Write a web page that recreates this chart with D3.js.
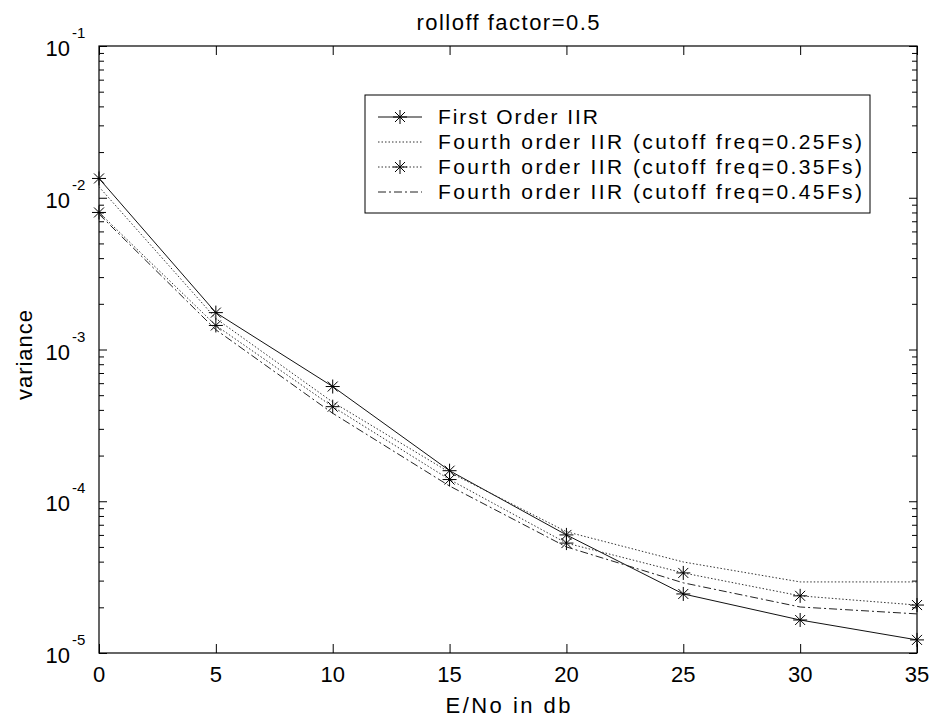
<!DOCTYPE html>
<html>
<head>
<meta charset="utf-8">
<script src="https://cdn.jsdelivr.net/npm/d3@7"></script>
<style>
  html, body { margin: 0; padding: 0; background: #fff; }
  svg { display: block; }
  text { font-family: "Liberation Sans", Arial, Helvetica, sans-serif; fill: #000; }
</style>
</head>
<body>
<script>
// ---- Data ----
const ebno = [0, 5, 10, 15, 20, 25, 30, 35];
const firstOrderIIR = [0.0134, 0.00175, 0.00057, 0.000159, 0.000060, 0.0000245, 0.0000165, 0.0000122];
const fourth025 = [0.0118, 0.00160, 0.00045, 0.000155, 0.000063, 0.0000398, 0.0000294, 0.0000294];
const fourth035 = [0.0080, 0.00144, 0.00042, 0.000139, 0.000053, 0.0000337, 0.0000238, 0.0000207];
const fourth045 = [0.0078, 0.00135, 0.00038, 0.000126, 0.000050, 0.0000290, 0.0000201, 0.0000181];
const seriesNames = [
  "First Order IIR",
  "Fourth order IIR (cutoff freq=0.25Fs)",
  "Fourth order IIR (cutoff freq=0.35Fs)",
  "Fourth order IIR (cutoff freq=0.45Fs)"
];
const xTickValues = [0, 5, 10, 15, 20, 25, 30, 35];
const yMajorExponents = [-1, -2, -3, -4, -5];
const titleText = "rolloff factor=0.5";
const xLabelText = "E/No in db";
const yLabelText = "variance";

// ---- Styles ----
const seriesData = [firstOrderIIR, fourth025, fourth035, fourth045];
const styles = [
  { dash: null, marker: true, color: "#111" },
  { dash: "1.5,2", marker: false, color: "#333" },
  { dash: "1.5,2", marker: true, color: "#333" },
  { dash: "8,3,2,3", marker: false, color: "#222" }
];

const W = 936, H = 722;
const plot = { left: 99, right: 917, top: 46, bottom: 653 };

const svg = d3.select("body").append("svg").attr("width", W).attr("height", H);
svg.append("rect").attr("width", W).attr("height", H).attr("fill", "#fff");

const x = d3.scaleLinear().domain([0, 35]).range([plot.left, plot.right]);
const y = d3.scaleLog().domain([1e-5, 1e-1]).range([plot.bottom, plot.top]);

// minor tick values
const yMinor = [];
for (let e = -5; e < -1; e++) {
  for (let m = 2; m <= 9; m++) yMinor.push(m * Math.pow(10, e));
}
const yMajor = yMajorExponents.map(e => Math.pow(10, e));

// Axes (ticks inward)
const axStyle = g => {
  g.select(".domain").remove();
  g.selectAll("line").attr("stroke", "#000").attr("stroke-width", 1);
};
svg.append("g").attr("transform", `translate(0,${plot.bottom})`)
  .call(d3.axisBottom(x).tickValues(xTickValues).tickSize(-9).tickSizeOuter(0).tickFormat(""))
  .call(axStyle);
svg.append("g").attr("transform", `translate(0,${plot.top})`)
  .call(d3.axisTop(x).tickValues(xTickValues).tickSize(-9).tickSizeOuter(0).tickFormat(""))
  .call(axStyle);
svg.append("g").attr("transform", `translate(${plot.left},0)`)
  .call(d3.axisLeft(y).tickValues(yMajor).tickSize(-8).tickSizeOuter(0).tickFormat(""))
  .call(axStyle);
svg.append("g").attr("transform", `translate(${plot.left},0)`)
  .call(d3.axisLeft(y).tickValues(yMinor).tickSize(-5).tickSizeOuter(0).tickFormat(""))
  .call(axStyle);
svg.append("g").attr("transform", `translate(${plot.right},0)`)
  .call(d3.axisRight(y).tickValues(yMajor).tickSize(-8).tickSizeOuter(0).tickFormat(""))
  .call(axStyle);
svg.append("g").attr("transform", `translate(${plot.right},0)`)
  .call(d3.axisRight(y).tickValues(yMinor).tickSize(-5).tickSizeOuter(0).tickFormat(""))
  .call(axStyle);

// Box
svg.append("rect")
  .attr("x", plot.left).attr("y", plot.top)
  .attr("width", plot.right - plot.left).attr("height", plot.bottom - plot.top)
  .attr("fill", "none").attr("stroke", "#000").attr("stroke-width", 1.2);

// X tick labels
svg.append("g").selectAll("text").data(xTickValues).join("text")
  .attr("x", d => x(d)).attr("y", plot.bottom + 29)
  .attr("text-anchor", "middle").attr("font-size", 22)
  .text(d => d);

// Y tick labels with superscript exponent
const yl = svg.append("g");
yMajorExponents.forEach(e => {
  const yy = y(Math.pow(10, e));
  yl.append("text").attr("x", 70).attr("y", yy + 10)
    .attr("text-anchor", "end").attr("font-size", 22).text("10");
  yl.append("text").attr("x", 72).attr("y", yy - 8)
    .attr("text-anchor", "start").attr("font-size", 15).text(String(e));
});

// Title and axis labels
svg.append("text").attr("x", (plot.left + plot.right) / 2).attr("y", 30)
  .attr("text-anchor", "middle").attr("font-size", 22)
  .attr("textLength", 183).attr("lengthAdjust", "spacing")
  .text(titleText);
svg.append("text").attr("x", (plot.left + plot.right) / 2).attr("y", 713)
  .attr("text-anchor", "middle").attr("font-size", 22)
  .attr("textLength", 125).attr("lengthAdjust", "spacing")
  .text(xLabelText);
svg.append("text")
  .attr("transform", `translate(32,355) rotate(-90)`)
  .attr("text-anchor", "middle").attr("font-size", 22)
  .attr("textLength", 90).attr("lengthAdjust", "spacing")
  .text(yLabelText);

// Series
const markerPath = "M-7,0H7M0,-7V7M-5,-5L5,5M-5,5L5,-5";
const line = d3.line().x(d => x(d[0])).y(d => y(d[1]));
const gLines = svg.append("g");
seriesData.forEach((vals, i) => {
  const pts = ebno.map((e, j) => [e, vals[j]]);
  const st = styles[i];
  gLines.append("path").datum(pts)
    .attr("d", line)
    .attr("fill", "none")
    .attr("stroke", st.color)
    .attr("stroke-width", 1)
    .attr("stroke-dasharray", st.dash);
  if (st.marker) {
    gLines.append("g").selectAll("path").data(pts).join("path")
      .attr("transform", d => `translate(${x(d[0])},${y(d[1])})`)
      .attr("d", markerPath)
      .attr("stroke", "#000").attr("stroke-width", 1).attr("fill", "none");
  }
});

// Legend
const legend = { x0: 365, y0: 95, x1: 870, y1: 213 };
const lg = svg.append("g");
lg.append("rect").attr("x", legend.x0).attr("y", legend.y0)
  .attr("width", legend.x1 - legend.x0).attr("height", legend.y1 - legend.y0)
  .attr("fill", "#fff").attr("stroke", "#000").attr("stroke-width", 1);
const rowY = [117, 142, 167, 192];
const textLens = [160, 424, 424, 424];
seriesNames.forEach((name, i) => {
  const st = styles[i];
  const ry = rowY[i];
  lg.append("line").attr("x1", 378).attr("x2", 422).attr("y1", ry).attr("y2", ry)
    .attr("stroke", st.color).attr("stroke-width", 1).attr("stroke-dasharray", st.dash);
  if (st.marker) {
    lg.append("path").attr("transform", `translate(400,${ry})`).attr("d", markerPath)
      .attr("stroke", "#000").attr("stroke-width", 1).attr("fill", "none");
  }
  lg.append("text").attr("x", 438).attr("y", ry + 7).attr("font-size", 21)
    .attr("textLength", textLens[i]).attr("lengthAdjust", "spacing")
    .text(name);
});
</script>
</body>
</html>
